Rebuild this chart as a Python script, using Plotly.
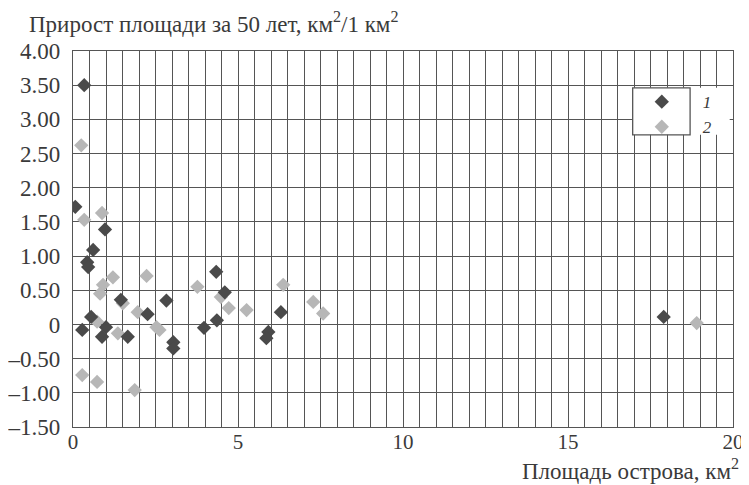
import plotly.graph_objects as go

# Series 1 (dark)
x1 = [0.34, 0.07, 0.97, 0.61, 0.43, 0.46, 1.45, 2.83, 0.55, 0.28, 1.00, 0.88,
      1.66, 2.26, 3.04, 3.04, 4.34, 4.36, 3.97, 4.60, 6.30, 5.92, 5.86, 17.9]
y1 = [3.50, 1.72, 1.39, 1.09, 0.91, 0.84, 0.36, 0.35, 0.11, -0.08, -0.04, -0.18,
      -0.18, 0.15, -0.26, -0.35, 0.77, 0.06, -0.05, 0.47, 0.18, -0.11, -0.20, 0.11]
# Series 2 (light)
x2 = [0.25, 0.34, 0.88, 1.21, 0.91, 0.82, 0.73, 1.36, 1.51, 1.96, 2.53, 2.62,
      2.23, 0.28, 0.73, 1.87, 3.77, 4.48, 4.72, 5.26, 6.37, 7.28, 7.58, 18.9]
y2 = [2.62, 1.53, 1.63, 0.69, 0.58, 0.45, 0.04, -0.13, 0.31, 0.18, -0.04, -0.08,
      0.71, -0.74, -0.84, -0.96, 0.55, 0.40, 0.24, 0.21, 0.58, 0.33, 0.16, 0.02]

series_names = ["1", "2"]
y_tickvals = [4.0, 3.5, 3.0, 2.5, 2.0, 1.5, 1.0, 0.5, 0.0, -0.5, -1.0, -1.5]
y_ticktext = ["4.00", "3.50", "3.00", "2.50", "2.00", "1.50", "1.00", "0.50", "0",
              "\u20130.50", "\u20131.00", "\u20131.50"]
x_tickvals = [0, 5, 10, 15, 20]

FONT = "Liberation Serif"
TXT = "#3a3a3a"
GRID = "#555555"

fig = go.Figure()
fig.add_trace(go.Scatter(x=x2, y=y2, mode="markers", name=series_names[1],
                         marker=dict(symbol="diamond", size=11, color="#b7b7b7"),
                         legendrank=2))
fig.add_trace(go.Scatter(x=x1, y=y1, mode="markers", name=series_names[0],
                         marker=dict(symbol="diamond", size=11, color="#4a4a4a"),
                         legendrank=1))

fig.update_layout(
    width=741, height=477,
    margin=dict(l=65, r=16, t=43, b=58, autoexpand=False),
    paper_bgcolor="white", plot_bgcolor="white",
    font=dict(family=FONT, size=23, color=TXT),
    showlegend=True,
    legend=dict(x=0.830, y=0.912, xanchor="left", yanchor="top",
                bgcolor="rgba(0,0,0,0)", borderwidth=0,
                itemwidth=72, tracegroupgap=0,
                font=dict(family=FONT, size=17, color=TXT, style="italic")),
    xaxis=dict(range=[0, 20], tickvals=x_tickvals, showgrid=True,
               gridcolor=GRID, gridwidth=1.3, automargin=False,
               minor=dict(dtick=0.5, showgrid=True, gridcolor=GRID, gridwidth=1.3),
               zeroline=False, showline=True, linecolor=GRID, linewidth=1.3,
               mirror=True, ticks="", tickfont=dict(size=21),
               ticklabelstandoff=-4, ticklabeloverflow="allow"),
    yaxis=dict(range=[-1.5, 4.0], tickvals=y_tickvals, ticktext=y_ticktext,
               showgrid=True, gridcolor=GRID, gridwidth=1.3, zeroline=False,
               automargin=False,
               showline=True, linecolor=GRID, linewidth=1.3, mirror=True,
               ticks="", tickfont=dict(size=23), ticklabelstandoff=7),
    shapes=[
        dict(type="rect", xref="paper", yref="paper", x0=0.848, x1=0.995,
             y0=0.777, y1=0.902, fillcolor="white", line=dict(width=0), layer="above"),
        dict(type="rect", xref="paper", yref="paper", x0=0.848, x1=0.935,
             y0=0.777, y1=0.902, fillcolor="rgba(0,0,0,0)",
             line=dict(color=GRID, width=1.3), layer="above"),
    ],
    annotations=[
        dict(text="Прирост площади за 50 лет, км<sup>2</sup>/1 км<sup>2</sup>",
             xref="paper", yref="paper", x=-0.069, y=1.077, xanchor="left",
             yanchor="middle", showarrow=False, font=dict(size=23, color=TXT)),
        dict(text="Площадь острова, км<sup>2</sup>", xref="paper", yref="paper",
             x=1.012, y=-0.112, xanchor="right", yanchor="middle", showarrow=False,
             font=dict(size=23, color=TXT)),
    ],
)

fig.write_html("out.html")
